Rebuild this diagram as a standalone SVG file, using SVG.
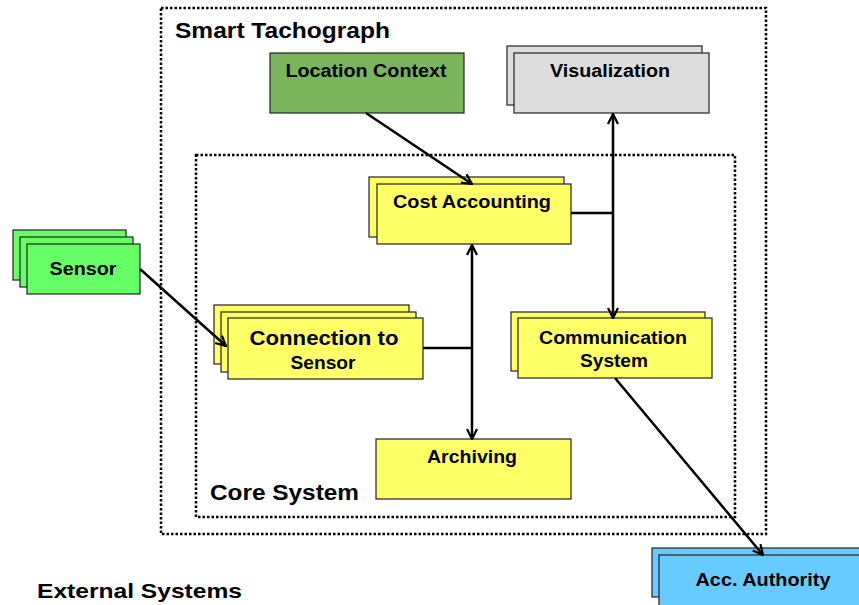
<svg xmlns="http://www.w3.org/2000/svg" width="859" height="605" viewBox="0 0 859 605">
  <defs>
    <style>
      .frame { fill: none; stroke: #000; stroke-width: 2.5; stroke-dasharray: 2.5 2; }
      .box { stroke: #222; stroke-width: 1.2; }
      .yellow { fill: #ffff66; }
      .green { fill: #66ff66; }
      .olive { fill: #7ab55c; }
      .grey { fill: #dddddd; }
      .blue { fill: #66ccff; }
      .lbl { font-family: "Liberation Sans", Arial, sans-serif; font-weight: bold; fill: #000; text-anchor: middle; font-size: 18px; }
      .title { font-family: "Liberation Sans", Arial, sans-serif; font-weight: bold; fill: #000; font-size: 22px; }
      .wire { fill: none; stroke: #000; stroke-width: 2.5; }
    </style>
    <marker id="arrow" viewBox="0 0 12 12" refX="11" refY="6" markerWidth="12" markerHeight="12" markerUnits="userSpaceOnUse" orient="auto-start-reverse">
      <path d="M1,1 L11,6 L1,11" fill="none" stroke="#000" stroke-width="2.2"/>
    </marker>
  </defs>

  <!-- container frames -->
  <rect class="frame" x="161" y="8" width="605" height="526"/>
  <rect class="frame" x="196" y="155" width="539" height="362"/>
  <text class="title" x="175" y="38" textLength="215" lengthAdjust="spacingAndGlyphs">Smart Tachograph</text>
  <text class="title" x="210" y="500" textLength="149" lengthAdjust="spacingAndGlyphs">Core System</text>
  <text class="title" x="37" y="598" textLength="205" lengthAdjust="spacingAndGlyphs" style="font-size:21px">External Systems</text>

  <g id="sensor">
    <rect class="box green" x="13" y="230" width="113" height="50"/>
    <rect class="box green" x="20" y="237" width="113" height="50"/>
    <rect class="box green" x="27" y="244" width="113" height="50"/>
    <text class="lbl" x="83" y="275" textLength="67" lengthAdjust="spacingAndGlyphs">Sensor</text>
  </g>

  <g id="location-context">
    <rect class="box olive" x="270" y="53" width="194" height="60"/>
    <text class="lbl" x="366" y="77" textLength="161" lengthAdjust="spacingAndGlyphs">Location Context</text>
  </g>

  <g id="visualization">
    <rect class="box grey" x="507" y="46" width="195" height="59"/>
    <rect class="box grey" x="514" y="53" width="195" height="60"/>
    <text class="lbl" x="610" y="77" textLength="120" lengthAdjust="spacingAndGlyphs">Visualization</text>
  </g>

  <g id="cost-accounting">
    <rect class="box yellow" x="369" y="177" width="195" height="60"/>
    <rect class="box yellow" x="377" y="184" width="194" height="60"/>
    <text class="lbl" x="472" y="208" textLength="158" lengthAdjust="spacingAndGlyphs">Cost Accounting</text>
  </g>

  <g id="connection-to-sensor">
    <rect class="box yellow" x="214" y="305" width="195" height="59"/>
    <rect class="box yellow" x="221" y="312" width="195" height="60"/>
    <rect class="box yellow" x="228" y="318" width="195" height="61"/>
    <text class="lbl" x="324" y="345" textLength="149" lengthAdjust="spacingAndGlyphs" style="font-size:21px">Connection to</text>
    <text class="lbl" x="323" y="369" textLength="65" lengthAdjust="spacingAndGlyphs">Sensor</text>
  </g>

  <g id="communication-system">
    <rect class="box yellow" x="511" y="312" width="194" height="59"/>
    <rect class="box yellow" x="518" y="318" width="194" height="60"/>
    <text class="lbl" x="613" y="344" textLength="148" lengthAdjust="spacingAndGlyphs">Communication</text>
    <text class="lbl" x="614" y="367" textLength="68" lengthAdjust="spacingAndGlyphs">System</text>
  </g>

  <g id="archiving">
    <rect class="box yellow" x="376" y="439" width="195" height="60"/>
    <text class="lbl" x="472" y="463" textLength="90" lengthAdjust="spacingAndGlyphs">Archiving</text>
  </g>

  <g id="acc-authority">
    <rect class="box blue" x="652" y="548" width="215" height="49"/>
    <rect class="box blue" x="659" y="555" width="215" height="55"/>
    <text class="lbl" x="763" y="586" textLength="135" lengthAdjust="spacingAndGlyphs">Acc. Authority</text>
  </g>

  <!-- connectors, drawn last so the arrowheads sit on the box edges -->
  <g id="connectors">
    <line class="wire" x1="140" y1="269" x2="226" y2="346" marker-end="url(#arrow)"/>
    <line class="wire" x1="366" y1="113" x2="472" y2="184" marker-end="url(#arrow)"/>
    <line class="wire" x1="613" y1="114" x2="613" y2="318" marker-start="url(#arrow)" marker-end="url(#arrow)"/>
    <line class="wire" x1="571" y1="213" x2="613" y2="213"/>
    <line class="wire" x1="472" y1="245" x2="472" y2="439" marker-start="url(#arrow)" marker-end="url(#arrow)"/>
    <line class="wire" x1="423" y1="348" x2="472" y2="348"/>
    <line class="wire" x1="615" y1="378" x2="763" y2="555" marker-end="url(#arrow)"/>
  </g>
</svg>
